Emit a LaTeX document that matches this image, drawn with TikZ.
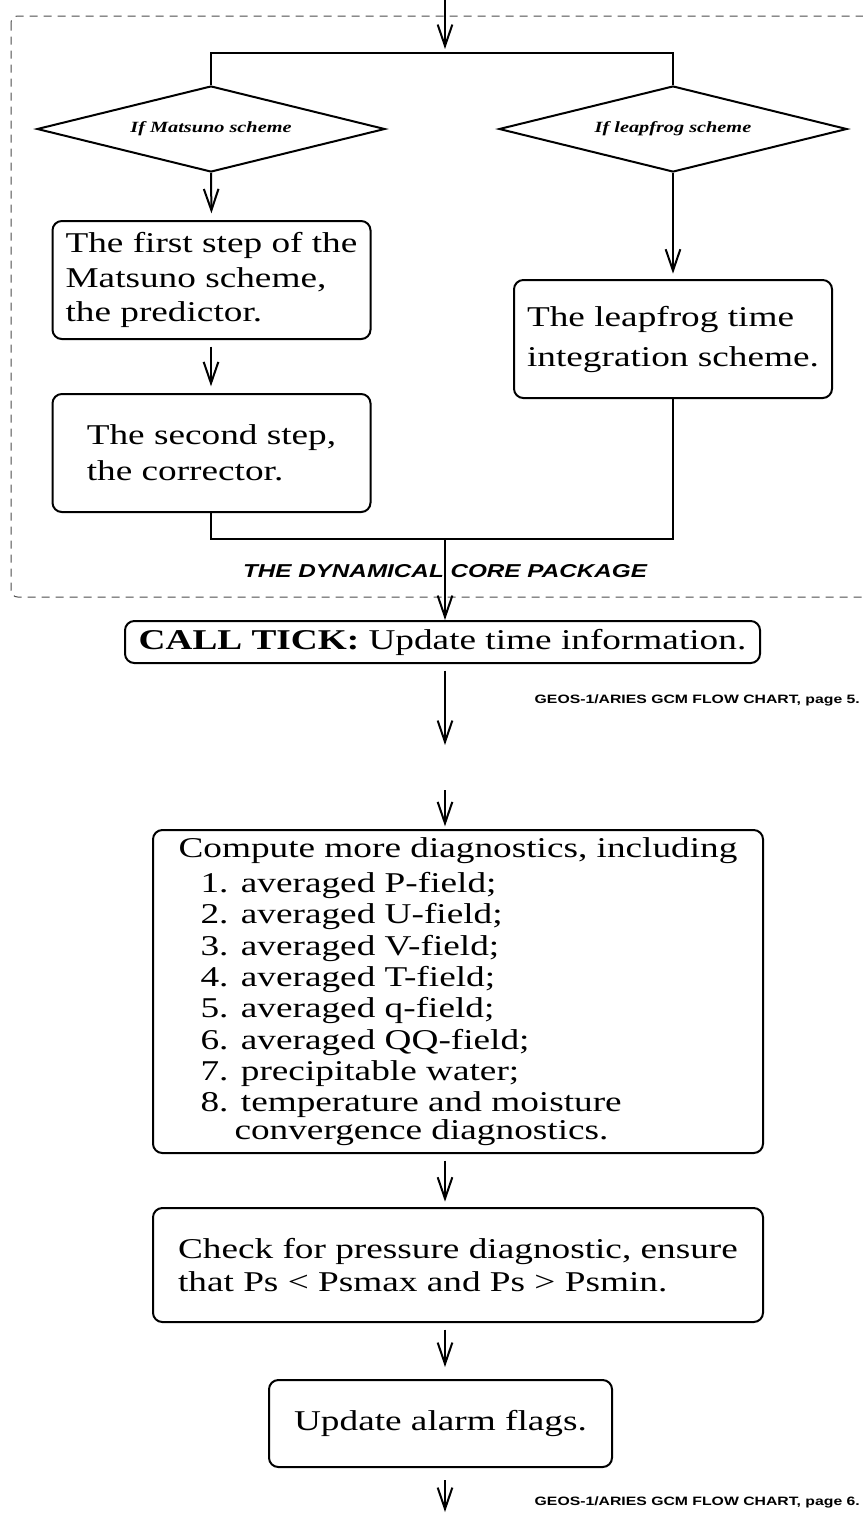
\documentclass[tikz,border=0pt]{standalone}
\usepackage{fontspec}
\setmainfont{Liberation Serif}[FakeStretch=1.3]
\setsansfont{Liberation Sans}[FakeStretch=1.3]
\usetikzlibrary{shapes.geometric,arrows.meta}

\begin{document}
\begin{tikzpicture}[x=0.75pt,y=-0.75pt,
  box/.style={draw,line width=1.5pt,rounded corners=7pt,inner sep=0pt,align=left,
    font=\fontsize{21.5}{26}\selectfont},
  cond/.style={draw,diamond,line width=1.5pt,aspect=4,inner sep=0pt,
    minimum width=261pt,minimum height=64.5pt,
    font=\fontsize{11.7}{13}\selectfont\bfseries\itshape},
  arr/.style={line width=1.5pt,-{Straight Barb[length=16pt,width=11pt,line width=1.5pt]}},
  wire/.style={line width=1.5pt},
  pagenote/.style={anchor=west,font=\fontsize{9.1}{10}\sffamily\bfseries}]
  \clip (0,0) rectangle (863,1514);

  % dynamical core package frame
  \draw[dashed,dash pattern=on 6pt off 4.5pt,black!70,line width=0.75pt,rounded corners=5pt]
    (11,16) rectangle (900,597);
  \node[font=\fontsize{14}{16}\sffamily\bfseries\itshape] (core) at (445,571) {THE DYNAMICAL CORE PACKAGE};

  \coordinate (top) at (445,-5);
  \coordinate (split) at (445,53);
  \coordinate (join) at (445,539);

  \node[cond] (dmats) at (211,129) {If Matsuno scheme};
  \node[cond] (dleap) at (673,129) {If leapfrog scheme};

  \node[box,minimum width=238.5pt,minimum height=88.5pt] (predictor) at (211.5,280)
    {The first step of the\\Matsuno scheme,\\the predictor.};
  \node[box,minimum width=238.5pt,minimum height=88.5pt,font=\fontsize{21.5}{27}\selectfont] (corrector) at (211.5,453)
    {The second step,\\the corrector.};
  \node[box,minimum width=238.5pt,minimum height=88.5pt,font=\fontsize{21.5}{30}\selectfont] (leapfrog) at (673,339)
    {The leapfrog time\\integration scheme.};

  \draw[arr] (top) -- (split |- 0,49);
  \draw[wire] (dmats.north) -- (dmats.north |- split) -- (dleap.north |- split) -- (dleap.north);
  \draw[arr,shorten >=5pt] (dmats.south) -- (predictor.north);
  \draw[arr,shorten <=5pt,shorten >=5pt] (predictor.south -| dmats) -- (corrector.north -| dmats);
  \draw[arr,shorten >=4pt] (dleap.south) -- (leapfrog.north -| dleap);
  \draw[wire] (corrector.south -| dmats) |- (join) -| (leapfrog.south -| dleap);

  % after the core
  \node[box,align=center,minimum width=476.25pt,minimum height=31.5pt] (tick) at (442.5,642)
    {{\bfseries CALL TICK:} Update time information.};
  \draw[arr] (join) -- (tick.north -| join);

  \coordinate (end5) at (445,745);
  \coordinate (start6) at (445,790);
  \coordinate (end6) at (445,1512);
  \draw[arr,shorten <=5pt] (tick.south -| end5) -- (end5);
  \node[pagenote] (page5) at (530,700) {GEOS-1/ARIES GCM FLOW CHART, page 5.};

  \node[box,minimum width=457.5pt,minimum height=242.25pt,font=\fontsize{21.5}{23.5}\selectfont] (diag) at (458,991.5)
    {Compute more diagnostics, including\\[3pt]
     \hspace*{16.5pt}1. averaged P-field;\\
     \hspace*{16.5pt}2. averaged U-field;\\
     \hspace*{16.5pt}3. averaged V-field;\\
     \hspace*{16.5pt}4. averaged T-field;\\
     \hspace*{16.5pt}5. averaged q-field;\\
     \hspace*{16.5pt}6. averaged QQ-field;\\
     \hspace*{16.5pt}7. precipitable water;\\
     \hspace*{16.5pt}8. temperature and moisture\\[-2.5pt]
     \hspace*{42pt}convergence diagnostics.};
  \node[box,minimum width=457.5pt,minimum height=85.5pt,font=\fontsize{21.5}{25}\selectfont] (press) at (458,1265)
    {Check for pressure diagnostic, ensure\\that Ps < Psmax and Ps > Psmin.};
  \node[box,minimum width=257.25pt,minimum height=65.25pt] (alarm) at (440.5,1423.5)
    {Update alarm flags.};

  \draw[arr,shorten >=2pt] (start6) -- (diag.north -| start6);
  \draw[arr,shorten <=5pt,shorten >=4pt] (diag.south -| start6) -- (press.north -| start6);
  \draw[arr,shorten <=5pt,shorten >=9pt] (press.south -| start6) -- (alarm.north -| start6);
  \draw[arr,shorten <=9pt] (alarm.south -| end6) -- (end6);
  \node[pagenote] (page6) at (530,1502) {GEOS-1/ARIES GCM FLOW CHART, page 6.};
\end{tikzpicture}
\end{document}
